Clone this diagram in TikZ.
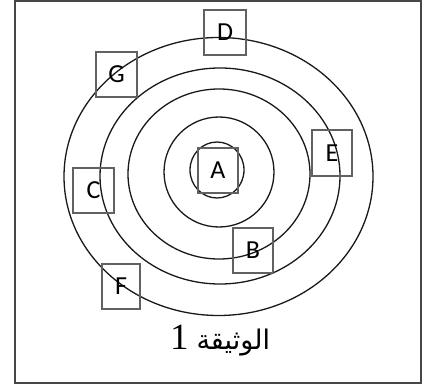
\documentclass[tikz,border=0pt]{standalone}
\usepackage{fontspec}
\TeXXeTstate=1
\newfontfamily\carlito{Carlito}
\newfontfamily\arabicfont[Script=Arabic]{DejaVu Sans}
\newfontfamily\serifnum{Liberation Serif}
\tikzset{
  lettbox/.style={draw=black!62, line width=1.1pt, inner sep=0pt,
    minimum width=41pt, minimum height=45pt,
    font=\carlito\fontsize{26}{26}\selectfont},
  ring/.style={draw=black!90, line width=1.3pt},
  frameline/.style={draw=black!72, line width=2pt}
}
\begin{document}
\begin{tikzpicture}[x=1pt,y=-1pt]
\useasboundingbox (0,0) rectangle (427,387);
\draw[frameline] (14.8,1.2) rectangle (421,382.5);
% rings
\draw[ring] (217,170) ellipse [x radius=27pt, y radius=28pt];
\draw[ring] (219,172) ellipse [x radius=55pt, y radius=55pt];
\draw[ring] (219,174) ellipse [x radius=91pt, y radius=85pt];
\draw[ring] (220,176) ellipse [x radius=120pt, y radius=108pt];
\draw[ring] (218.5,176.5) ellipse [x radius=154.5pt, y radius=139pt];
% boxes
\node[lettbox, minimum width=42pt] (D) at (225,32.5) {D};
\node[lettbox] (G) at (116.5,74.5) {G};
\node[lettbox, minimum width=40pt, minimum height=46pt] (E) at (332,153) {E};
\node[lettbox, minimum width=40pt] (A) at (218,170.5) {A};
\node[lettbox] (C) at (93.5,190.5) {C};
\node[lettbox, minimum width=40pt] (B) at (253,250.5) {B};
\node[lettbox, minimum width=38pt] (F) at (121,286.5) {F};
% caption
\node (cap) at (220,341) {\beginR{\arabicfont\fontsize{27}{27}\selectfont الوثيقة}\hspace{8pt}{\serifnum\fontsize{37}{37}\selectfont 1}\endR};
\end{tikzpicture}
\end{document}
